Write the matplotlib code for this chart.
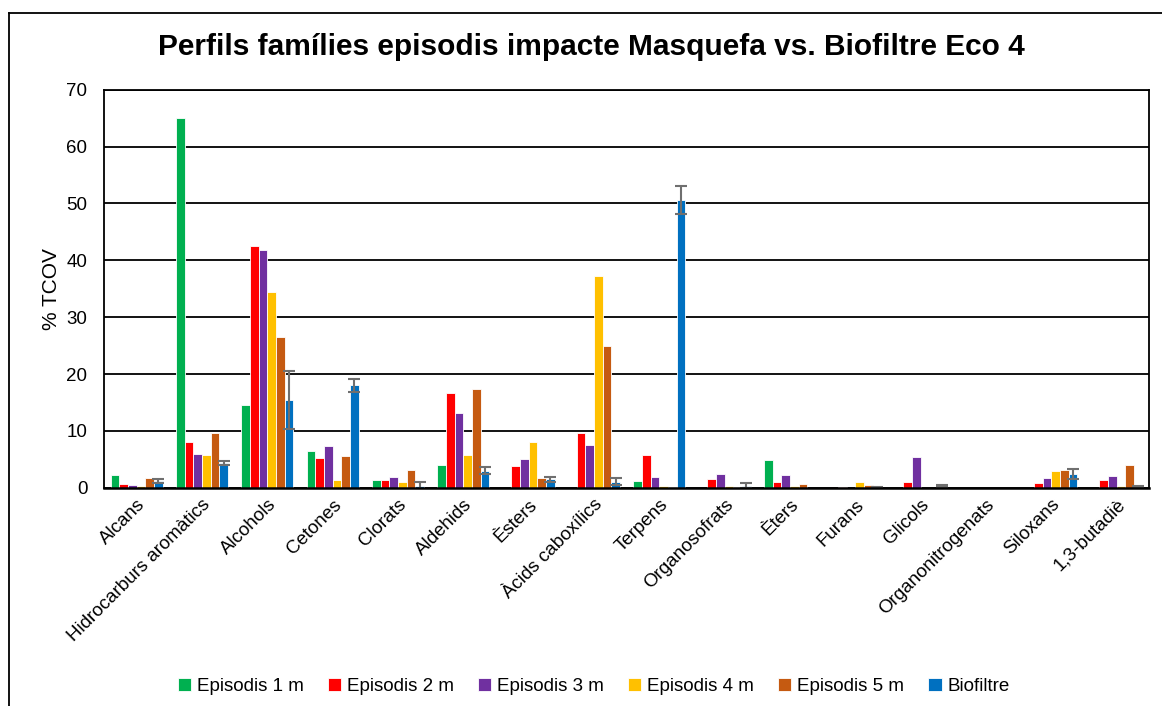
import matplotlib
matplotlib.use("Agg")
import matplotlib.pyplot as plt
import numpy as np
from matplotlib.lines import Line2D

plt.rcParams['font.family'] = ['Liberation Sans', 'DejaVu Sans']

categories = ["Alcans", "Hidrocarburs aromàtics", "Alcohols", "Cetones", "Clorats",
              "Aldehids", "Èsters", "Àcids caboxílics", "Terpens", "Organosofrats",
              "Èters", "Furans", "Glicols", "Organonitrogenats", "Siloxans", "1,3-butadiè"]

series_names = ["Episodis 1 m", "Episodis 2 m", "Episodis 3 m", "Episodis 4 m",
                "Episodis 5 m", "Biofiltre"]

ep1 = [2.2, 65.1, 14.6, 6.5, 1.3, 4.0, 0.0, 0.0, 1.2, 0.0, 4.9, 0.0, 0.0, 0.0, 0.0, 0.0]
ep2 = [0.65, 8.1, 42.6, 5.2, 1.4, 16.6, 3.9, 9.6, 5.7, 1.6, 0.95, 0.1, 0.95, 0.0, 0.8, 1.45]
ep3 = [0.55, 6.0, 41.9, 7.4, 1.9, 13.1, 5.1, 7.5, 1.9, 2.45, 2.2, 0.0, 5.4, 0.0, 1.8, 2.1]
ep4 = [0.4, 5.7, 34.4, 1.4, 1.0, 5.8, 8.0, 37.3, 0.35, 0.3, 0.3, 1.1, 0.0, 0.0, 3.0, 0.35]
ep5 = [1.75, 9.7, 26.6, 5.55, 3.15, 17.4, 1.75, 25.0, 0.1, 0.2, 0.6, 0.5, 0.0, 0.0, 3.2, 4.1]
bio = [1.15, 4.4, 15.4, 18.0, 0.4, 3.0, 1.5, 1.05, 50.6, 0.4, 0.0, 0.1, 0.3, 0.0, 2.5, 0.15]
bio_err = [0.35, 0.4, 5.1, 1.1, 0.6, 0.65, 0.45, 0.6, 2.5, 0.4, 0.0, 0.1, 0.2, 0.0, 0.9, 0.1]

colors = ["#00B050", "#FF0000", "#7030A0", "#FFC000", "#C55A11", "#0070C0"]
yticks = [0, 10, 20, 30, 40, 50, 60, 70]

data = [ep1, ep2, ep3, ep4, ep5, bio]

fig = plt.figure(figsize=(11.62, 7.06), dpi=100)
ax = fig.add_axes([0.0895, 0.309, 0.8995, 0.564])

x = np.arange(len(categories))
slot = 0.133
for i, (vals, c, name) in enumerate(zip(data, colors, series_names)):
    v = np.array(vals, dtype=float)
    v[v == 0] = np.nan
    pos = x + (i - 2.5) * slot
    ax.bar(pos, v, width=slot, color=c, edgecolor='white', linewidth=0.6,
           label=name, zorder=3)
    if i == 5:
        e = np.array(bio_err, dtype=float)
        m = ~np.isnan(v)
        ax.errorbar(pos[m], v[m], yerr=e[m], fmt='none', ecolor='#6f6f6f',
                    elinewidth=1.5, capsize=4.5, capthick=1.5, zorder=4)

ax.set_xlim(-0.5, len(categories) - 0.5)
ax.set_ylim(0, 70)
ax.set_yticks(yticks)
ax.yaxis.grid(True, color='black', linewidth=1.3, zorder=0)
ax.set_axisbelow(True)
for s in ax.spines.values():
    s.set_color('black')
    s.set_linewidth(1.3)
    s.set_zorder(5)
ax.spines['bottom'].set_linewidth(1.8)
ax.tick_params(axis='y', length=0, labelsize=13.5, pad=12)
ax.set_xticks(x)
ax.set_xticklabels(categories, rotation=45, ha='right', rotation_mode='anchor', fontsize=13.5)
ax.tick_params(axis='x', length=0, pad=6)
ax.set_ylabel("% TCOV", fontsize=15, labelpad=4)

fig.text(0.509, 0.933, "Perfils famílies episodis impacte Masquefa vs. Biofiltre Eco 4",
         ha='center', va='center', fontsize=21.5, fontweight='bold')

leg = ax.legend(loc='center', bbox_to_anchor=(0.511, 0.028), bbox_transform=fig.transFigure,
                ncol=6, frameon=False, fontsize=13.5, handlelength=0.7, handleheight=0.7,
                handletextpad=0.3, columnspacing=1.3)

# outer frame (left and top edges)
fig.add_artist(Line2D([0.0077, 0.0077], [0.0, 0.9816], transform=fig.transFigure,
                      color='black', linewidth=1.3))
fig.add_artist(Line2D([0.0077, 1.0], [0.9816, 0.9816], transform=fig.transFigure,
                      color='black', linewidth=1.3))

fig.savefig("out.png", dpi=100)
